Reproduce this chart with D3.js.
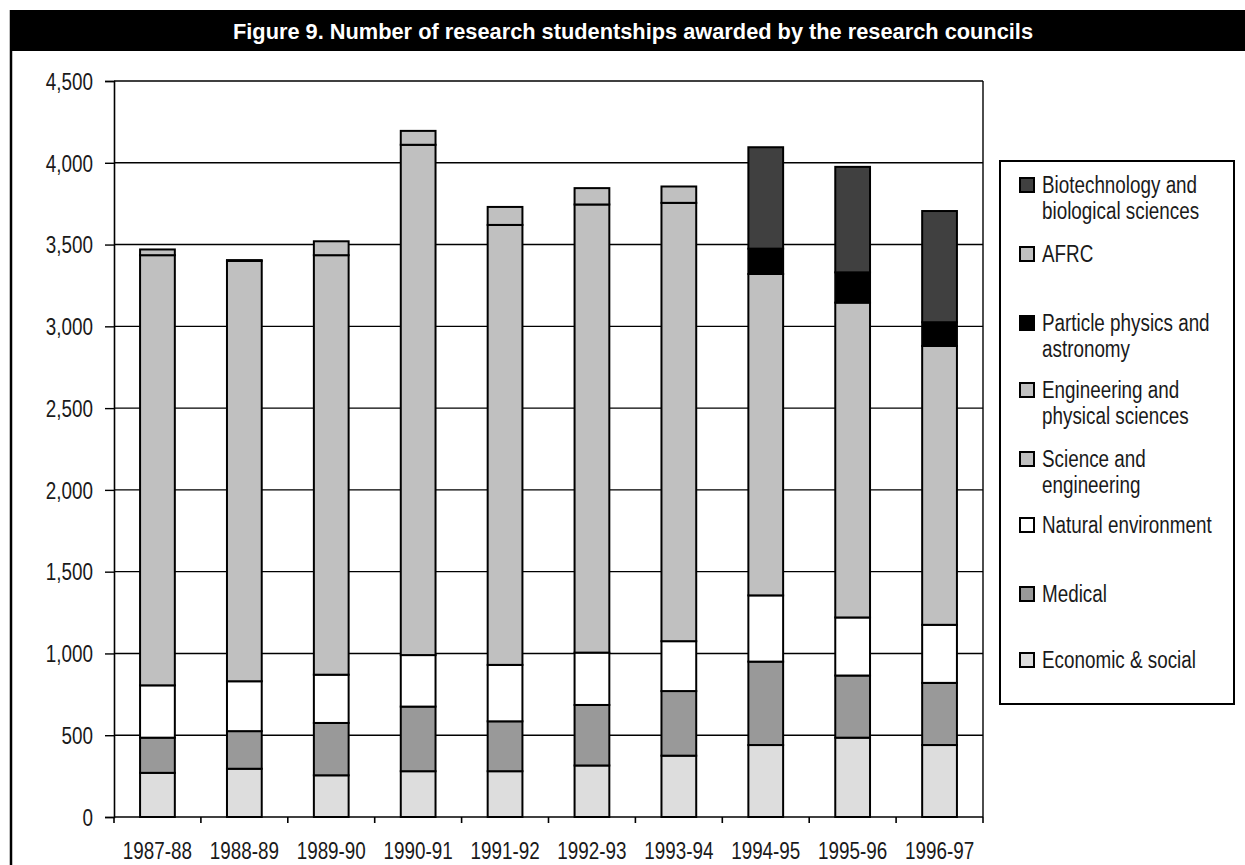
<!DOCTYPE html>
<html>
<head>
<meta charset="utf-8">
<script src="https://cdn.jsdelivr.net/npm/d3@7"></script>
<style>
  html, body { margin: 0; padding: 0; background: #fff; }
  svg { display: block; }
  text { font-family: "Liberation Sans", Arial, sans-serif; }
</style>
</head>
<body>
<svg id="chart" width="1245" height="865"></svg>
<script>
// Academic years on the x axis
const years = ["1987-88", "1988-89", "1989-90", "1990-91", "1991-92",
               "1992-93", "1993-94", "1994-95", "1995-96", "1996-97"];

// Studentships per research council (stacked bottom to top)
const economicSocial   = [270, 295, 255, 280, 280, 315, 375, 440, 485, 440];
const medical          = [215, 230, 320, 395, 305, 370, 395, 510, 380, 380];
const naturalEnv       = [320, 305, 295, 315, 345, 320, 305, 405, 355, 355];
const scienceEng       = [2630, 2570, 2565, 3120, 2690, 2740, 2680, 0, 0, 0];
const engPhysSci       = [0, 0, 0, 0, 0, 0, 0, 1965, 1925, 1705];
const particlePhysics  = [0, 0, 0, 0, 0, 0, 0, 155, 185, 145];
const afrc             = [35, 5, 85, 85, 110, 100, 100, 0, 0, 0];
const biotech          = [0, 0, 0, 0, 0, 0, 0, 620, 645, 680];

const yTicks = [0, 500, 1000, 1500, 2000, 2500, 3000, 3500, 4000, 4500];

const series = [
  { key: "econ",     name: ["Economic & social"],                     values: economicSocial,  color: "#dddddd" },
  { key: "medical",  name: ["Medical"],                               values: medical,         color: "#999999" },
  { key: "natural",  name: ["Natural environment"],                   values: naturalEnv,      color: "#ffffff" },
  { key: "scieng",   name: ["Science and", "engineering"],            values: scienceEng,      color: "#c0c0c0" },
  { key: "engphys",  name: ["Engineering and", "physical sciences"],  values: engPhysSci,      color: "#c0c0c0" },
  { key: "particle", name: ["Particle physics and", "astronomy"],     values: particlePhysics, color: "#000000" },
  { key: "afrc",     name: ["AFRC"],                                  values: afrc,            color: "#c0c0c0" },
  { key: "biotech",  name: ["Biotechnology and", "biological sciences"], values: biotech,      color: "#404040" }
];

// Horizontal squeeze that turns the regular sans into a narrow face
const NARROW = 0.82;

const svg = d3.select("#chart");

// Writes a narrow text anchored at (x, y)
function narrowText(parent, x, y, str, size, anchor, fill) {
  const g = parent.append("g").attr("transform", `translate(${x},${y}) scale(${NARROW},1)`);
  return g.append("text").attr("x", 0).attr("y", 0)
    .attr("text-anchor", anchor || "start")
    .attr("font-size", size).attr("fill", fill || "#1a1a1a")
    .text(str);
}

// Title band and left frame rule
svg.append("rect").attr("x", 10).attr("y", 10).attr("width", 1235).attr("height", 41).attr("fill", "#000");
svg.append("line").attr("x1", 11).attr("x2", 11).attr("y1", 10).attr("y2", 865)
  .attr("stroke", "#000").attr("stroke-width", 2.5);
svg.append("text")
  .attr("x", 633).attr("y", 39).attr("text-anchor", "middle")
  .attr("fill", "#fff").attr("font-size", 22).attr("font-weight", "bold")
  .attr("textLength", 800).attr("lengthAdjust", "spacingAndGlyphs")
  .text("Figure 9. Number of research studentships awarded by the research councils");

// Scales
const plot = { left: 114, right: 983, top: 81, bottom: 817 };
const x = d3.scaleBand().domain(years).range([plot.left, plot.right]).paddingInner(0.6).paddingOuter(0.3);
const y = d3.scaleLinear().domain([0, 4500]).range([plot.bottom, plot.top]);

// Horizontal gridlines
svg.append("g").selectAll("line").data(yTicks.filter(d => d > 0)).join("line")
  .attr("x1", plot.left).attr("x2", plot.right)
  .attr("y1", d => y(d)).attr("y2", d => y(d))
  .attr("stroke", "#000").attr("stroke-width", 1.4);

// Right border of plot area
svg.append("line").attr("x1", plot.right).attr("x2", plot.right)
  .attr("y1", y(4500)).attr("y2", y(0)).attr("stroke", "#000").attr("stroke-width", 1.4);

// Stacked data
const table = years.map((yr, i) => {
  const row = { year: yr };
  series.forEach(s => row[s.key] = s.values[i]);
  return row;
});
const stack = d3.stack().keys(series.map(s => s.key))(table);

const bars = svg.append("g");
stack.forEach((layer, li) => {
  bars.append("g").selectAll("rect")
    .data(layer.filter(d => d[1] - d[0] > 0))
    .join("rect")
    .attr("x", d => x(d.data.year))
    .attr("width", x.bandwidth())
    .attr("y", d => y(d[1]))
    .attr("height", d => y(d[0]) - y(d[1]))
    .attr("fill", series[li].color)
    .attr("stroke", "#000")
    .attr("stroke-width", 2);
});

// Y axis
const yAxis = d3.axisLeft(y).tickValues(yTicks).tickFormat(d3.format(",")).tickSize(9).tickPadding(12);
const gy = svg.append("g").attr("transform", `translate(${plot.left},0)`).call(yAxis);
gy.select(".domain").attr("stroke", "#000").attr("stroke-width", 1.6);
gy.selectAll(".tick line").attr("stroke", "#000").attr("stroke-width", 1.4);
gy.selectAll(".tick text")
  .attr("font-size", 23).attr("fill", "#1a1a1a")
  .attr("x", -21 / NARROW).attr("dy", "0.36em")
  .attr("transform", `scale(${NARROW},1)`);

// X axis: ticks at category boundaries, labels centred under bars
const gx = svg.append("g");
gx.append("line").attr("x1", plot.left).attr("x2", plot.right)
  .attr("y1", y(0)).attr("y2", y(0)).attr("stroke", "#000").attr("stroke-width", 1.6);
gx.selectAll("line.tk").data(d3.range(years.length + 1)).join("line").attr("class", "tk")
  .attr("x1", i => plot.left + i * (plot.right - plot.left) / years.length)
  .attr("x2", i => plot.left + i * (plot.right - plot.left) / years.length)
  .attr("y1", y(0)).attr("y2", y(0) + 6)
  .attr("stroke", "#000").attr("stroke-width", 1.6);
years.forEach(yr => narrowText(gx, x(yr) + x.bandwidth() / 2, 859, yr, 23, "middle"));

// Legend
const legend = svg.append("g");
legend.append("rect").attr("x", 1000).attr("y", 161).attr("width", 234).attr("height", 543)
  .attr("fill", "#fff").attr("stroke", "#000").attr("stroke-width", 2);
const legendOrder = series.slice().reverse();
const legendBase = [193, 262, 331, 398, 467, 533, 602, 668];
legendOrder.forEach((s, i) => {
  const by = legendBase[i];
  legend.append("rect").attr("x", 1020).attr("y", by - 15).attr("width", 14).attr("height", 14)
    .attr("fill", s.color).attr("stroke", "#000").attr("stroke-width", 2);
  s.name.forEach((ln, j) => narrowText(legend, 1042, by + j * 26, ln, 23, "start"));
});
</script>
</body>
</html>
